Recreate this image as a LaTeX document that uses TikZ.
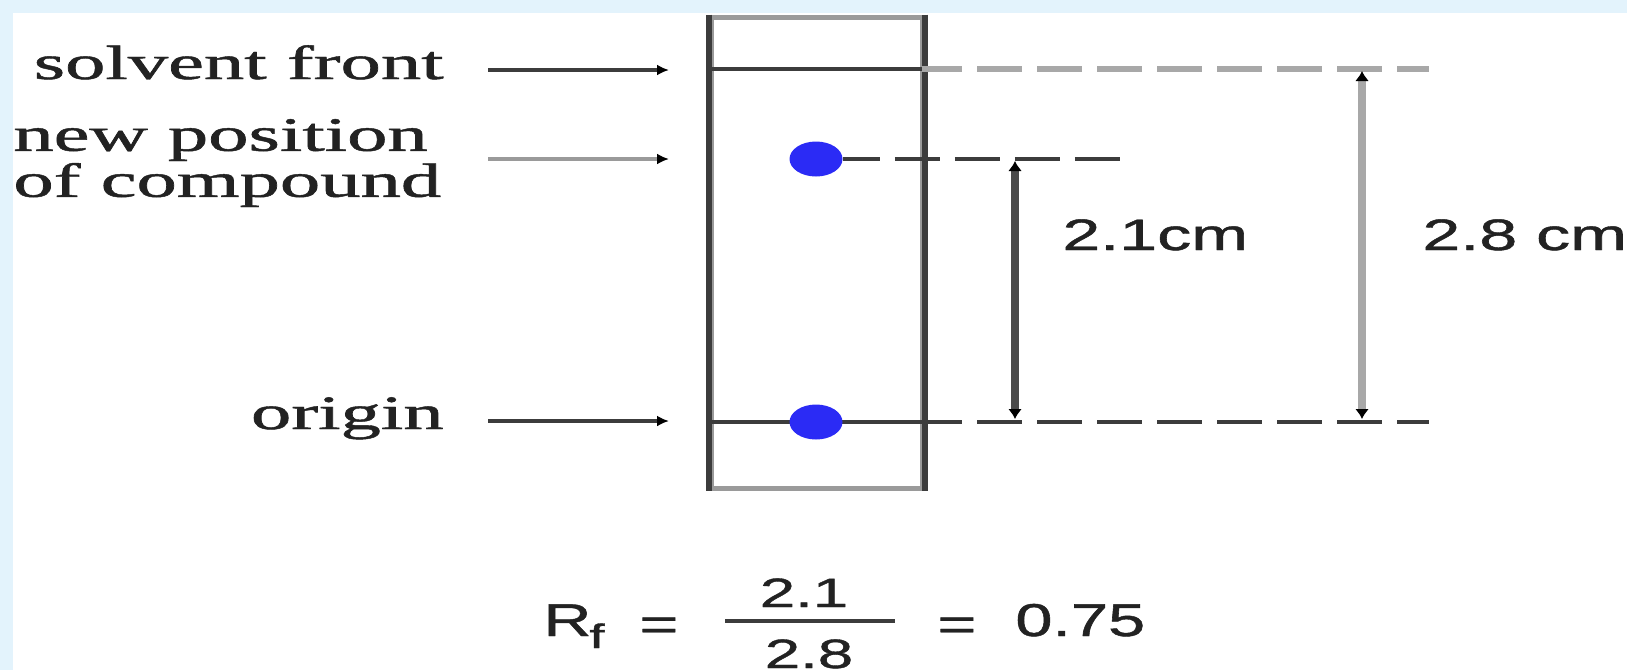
\documentclass[tikz,border=0pt]{standalone}
\usepackage{fontspec}
\setmainfont{Liberation Serif}
\newfontfamily\serifh[FakeBold=0.9]{Liberation Serif}
\newfontfamily\arialf[FakeBold=0.9]{Liberation Sans}
\usetikzlibrary{arrows.meta,shapes.geometric}
\definecolor{bgblue}{HTML}{E3F3FC}
\definecolor{spotblue}{HTML}{2B2BF5}
\definecolor{ink}{HTML}{222222}
\definecolor{darkline}{HTML}{3C3C3C}
\definecolor{arrowdark}{HTML}{4A4A4A}
\definecolor{lightline}{HTML}{A8A8A8}
\definecolor{midline}{HTML}{9A9A9A}
\begin{document}
\begin{tikzpicture}[x=0.5pt,y=-0.5pt,
  serif/.style={inner sep=0pt, text=ink, font=\serifh\fontsize{24pt}{24pt}\selectfont},
  sans/.style={inner sep=0pt, text=ink, font=\arialf\fontsize{22pt}{22pt}\selectfont},
  fbig/.style={inner sep=0pt, text=ink, font=\arialf\fontsize{23pt}{23pt}\selectfont},
  fsmall/.style={inner sep=0pt, text=ink, font=\arialf\fontsize{20.5pt}{20.5pt}\selectfont},
  fsub/.style={inner sep=0pt, text=ink, font=\arialf\fontsize{17pt}{17pt}\selectfont},
  plate/.style={draw=midline, line width=2.5pt, fill=white, minimum width=105.5pt, minimum height=235.5pt, inner sep=0pt},
  plateside/.style={draw=darkline, line width=3pt},
  platemark/.style={draw=darkline, line width=2pt},
  spot/.style={ellipse, fill=spotblue, minimum width=26.5pt, minimum height=17.5pt, inner sep=0pt},
  dashdark/.style={draw=darkline, line width=2pt, dash pattern=on 22.5pt off 7.5pt},
  dashlight/.style={draw=lightline, line width=2.75pt, dash pattern=on 22.5pt off 7.5pt},
  pointer/.style={line width=2.1pt, -{Latex[length=6pt,width=5.5pt,color=black]}},
  measure/.style={line width=3.75pt, {Latex[length=5pt,width=7pt,color=black]}-{Latex[length=5pt,width=7pt,color=black]}},
  fracbar/.style={draw=darkline, line width=2pt}
]
\useasboundingbox (0,0) rectangle (1627,670);
\clip (0,0) rectangle (1627,670);
\fill[bgblue] (0,0) rectangle (1627,670);
\fill[white] (13,13) rectangle (1627,670);

% plate
\node[plate] (plate) at (816.5,252.5) {};
\draw[plateside] (plate.north west) -- (plate.south west);
\draw[plateside] (plate.north east) -- (plate.south east);

% lines on the plate
\coordinate (sfL) at (711,69);
\coordinate (sfR) at (922,69);
\coordinate (sfE) at (1429,69);
\coordinate (orL) at (711,422);
\coordinate (orR) at (922,422);
\coordinate (orE) at (1429,422);
\draw[platemark] (sfL) -- (sfR);
\draw[platemark] (orL) -- (orR);
\draw[dashlight, dash phase=2.5pt] (sfR) -- (sfE);
\draw[dashdark, dash phase=2.5pt] (orR) -- (orE);

% spots
\node[spot] (spotnew) at (816,159) {};
\node[spot] (spotorg) at (816,422) {};
\coordinate (npE) at (1127,159);
\draw[dashdark, dash phase=4pt] (spotnew.east) -- (npE);

% measurement arrows
\coordinate (m21t) at (1015,161);
\coordinate (m21b) at (1015,419);
\draw[measure, draw=arrowdark] (m21t) -- (m21b);
\coordinate (m28t) at (1362,71);
\coordinate (m28b) at (1362,419);
\draw[measure, draw=lightline] (m28t) -- (m28b);
\node[sans, anchor=base west] (l21) at (1062,250) {\scalebox{1.55}[1]{2.1cm}};
\node[sans, anchor=base west] (l28) at (1422,250) {\scalebox{1.55}[1]{2.8 cm}};

% left labels and pointers
\node[serif, anchor=base east] (solv) at (444,79) {\scalebox{1.68}[1]{solvent front}};
\node[serif, anchor=west, align=left] (newpos) at (13,163) {\scalebox{1.68}[1]{new position}\\[-1pt]\scalebox{1.68}[1]{of compound}};
\node[serif, anchor=base east] (orig) at (444,429) {\scalebox{1.68}[1]{origin}};
\coordinate (pSa) at (488,70);  \coordinate (pSb) at (669,70);
\coordinate (pNa) at (488,159); \coordinate (pNb) at (669,159);
\coordinate (pOa) at (488,421); \coordinate (pOb) at (669,421);
\draw[pointer, draw=darkline] (pSa) -- (pSb);
\draw[pointer, draw=midline] (pNa) -- (pNb);
\draw[pointer, draw=darkline] (pOa) -- (pOb);

% formula
\node[fbig, anchor=base west] (R) at (543,636) {\scalebox{1.45}[1]{R}};
\node[fsub, anchor=base west] (Rsub) at (589,648) {\scalebox{1.6}[1]{f}};
\node[fbig, anchor=base] (eq1) at (659,640) {\scalebox{1.45}[1]{=}};
\node[fsmall, anchor=base] (num) at (804,607) {\scalebox{1.55}[1]{2.1}};
\coordinate (fbL) at (725,621);
\coordinate (fbR) at (895,621);
\draw[fracbar] (fbL) -- (fbR);
\node[fsmall, anchor=base] (den) at (809,668) {\scalebox{1.55}[1]{2.8}};
\node[fbig, anchor=base] (eq2) at (957,640) {\scalebox{1.45}[1]{=}};
\node[fbig, anchor=base west] (val) at (1015,636) {\scalebox{1.45}[1]{0.75}};
\end{tikzpicture}
\end{document}
